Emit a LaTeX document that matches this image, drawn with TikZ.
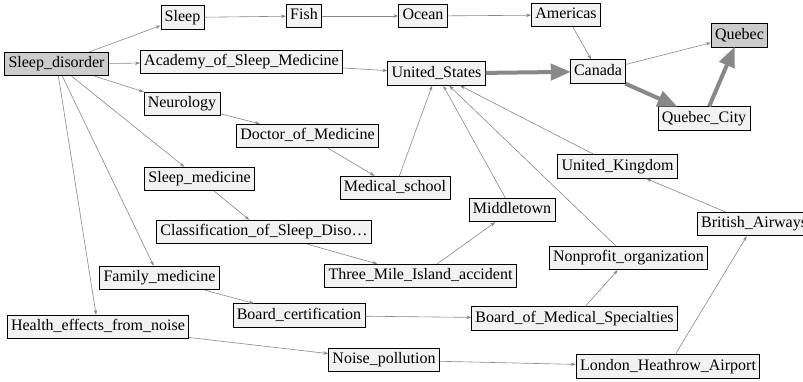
\documentclass[tikz,border=0pt]{standalone}
\usepackage{fontspec}
\setmainfont{Liberation Serif}
\usetikzlibrary{arrows.meta}
\definecolor{edgegray}{HTML}{888888}
\definecolor{boxfill}{HTML}{F2F2F2}
\definecolor{hifill}{HTML}{CCCCCC}
\tikzset{
  box/.style={draw=black, line width=0.8pt, fill=boxfill, font=\rmfamily\fontsize{16}{18}\selectfont,
    inner xsep=3.8pt, inner ysep=0pt, minimum height=23.5pt, text height=11.2pt, text depth=3.6pt},
  hibox/.style={box, fill=hifill},
  edge/.style={draw=edgegray, line width=0.6pt, -{Stealth[length=5pt,width=3.5pt]}},
  bigedge/.style={draw=edgegray, line width=4pt, -{Triangle[length=20pt,width=16pt]}, shorten >=-1pt}
}
\begin{document}
\begin{tikzpicture}[x=1pt,y=-1pt]
\useasboundingbox (0,0) rectangle (803,381);
\clip (0,0) rectangle (803,381);
\node[hibox] (sd) at (56.5,64) {Sleep\_disorder};
\node[box] (sleep) at (182.5,17.5) {Sleep};
\node[box] (fish) at (304,16) {Fish};
\node[box] (ocean) at (423,16) {Ocean};
\node[box] (americas) at (566,15) {Americas};
\node[box] (academy) at (241.5,62) {Academy\_of\_Sleep\_Medicine};
\node[box] (us) at (436.5,73.5) {United\_States};
\node[box] (canada) at (598,71.5) {Canada};
\node[hibox] (quebec) at (739.5,35.5) {Quebec};
\node[box] (qc) at (704,118.5) {Quebec\_City};
\node[box] (neuro) at (182,104) {Neurology};
\node[box] (doctor) at (307.5,136) {Doctor\_of\_Medicine};
\node[box] (medschool) at (395,188) {Medical\_school};
\node[box] (sleepmed) at (199.5,179) {Sleep\_medicine};
\node[box] (classif) at (264,232) {Classification\_of\_Sleep\_Diso…};
\node[box] (uk) at (617.5,166.5) {United\_Kingdom};
\node[box] (middletown) at (512,210) {Middletown};
\node[box, anchor=west] (ba) at (697,224) {British\_Airways};
\node[box] (nonprofit) at (628.5,258) {Nonprofit\_organization};
\node[box] (tmi) at (420.5,276) {Three\_Mile\_Island\_accident};
\node[box] (family) at (159.5,278) {Family\_medicine};
\node[box] (boardcert) at (299,315.5) {Board\_certification};
\node[box] (bms) at (574.5,318.5) {Board\_of\_Medical\_Specialties};
\node[box] (health) at (98,327) {Health\_effects\_from\_noise};
\node[box] (noise) at (384,360) {Noise\_pollution};
\node[box] (lhr) at (668,366.5) {London\_Heathrow\_Airport};

\draw[edge] (sd) -- (sleep);
\draw[edge] (sleep) -- (fish);
\draw[edge] (fish) -- (ocean);
\draw[edge] (ocean) -- (americas);
\draw[edge] (americas) -- (canada);
\draw[edge] (sd) -- (academy);
\draw[edge] (academy) -- (us);
\draw[edge] (canada) -- (quebec);
\draw[edge] (sd) -- (neuro);
\draw[edge] (neuro) -- (doctor);
\draw[edge] (doctor) -- (medschool);
\draw[edge] (medschool) -- (us);
\draw[edge] (sd) -- (sleepmed);
\draw[edge] (sleepmed) -- (classif);
\draw[edge] (classif) -- (tmi);
\draw[edge] (tmi) -- (middletown);
\draw[edge] (middletown) -- (us);
\draw[edge] (nonprofit) -- (us);
\draw[edge] (uk) -- (us);
\draw[edge] (ba) -- (uk);
\draw[edge] (sd) -- (family);
\draw[edge] (family) -- (boardcert);
\draw[edge] (boardcert) -- (bms);
\draw[edge] (bms) -- (nonprofit);
\draw[edge] (sd) -- (health);
\draw[edge] (health) -- (noise);
\draw[edge] (noise) -- (lhr);
\draw[edge] (lhr) -- (ba);

\draw[bigedge] (us) -- (canada);
\draw[bigedge] (canada) -- (qc);
\draw[bigedge] (qc) -- (quebec);
\end{tikzpicture}
\end{document}
